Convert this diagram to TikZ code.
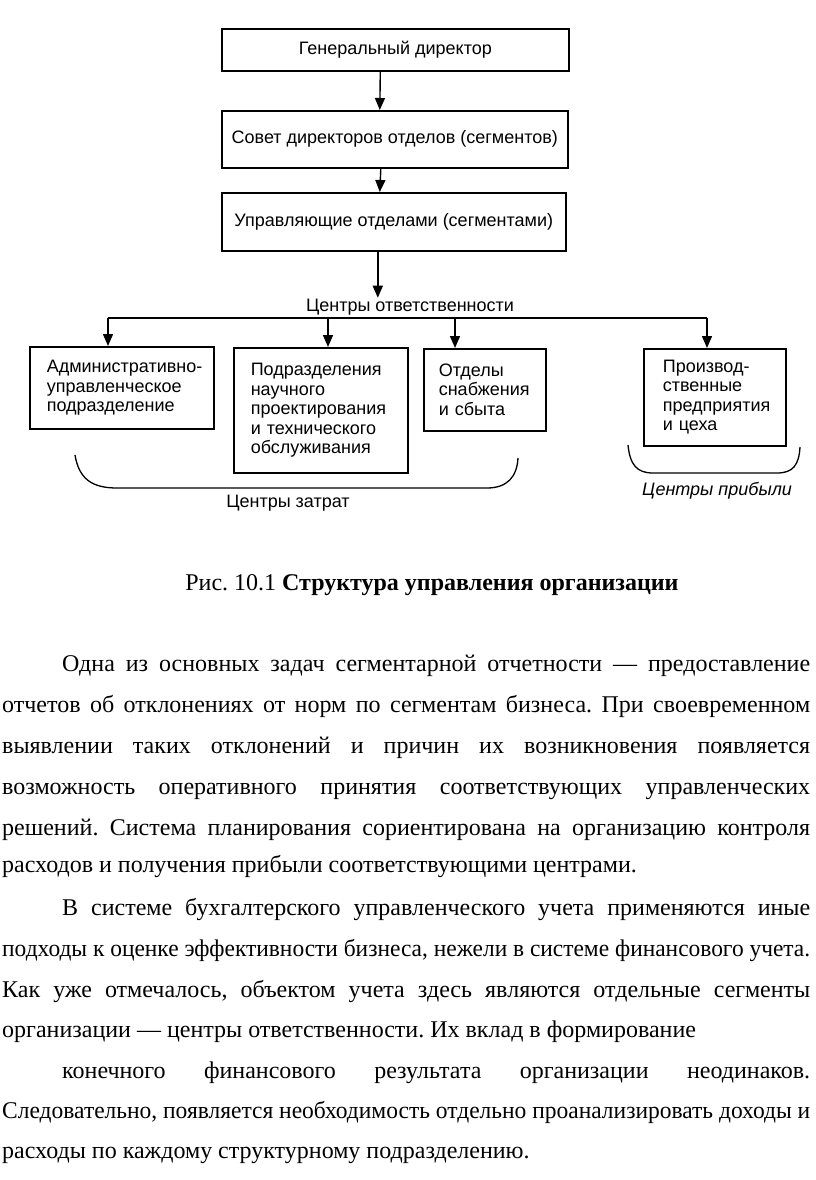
\documentclass[tikz,border=0pt]{standalone}
\usepackage{graphicx}
\usepackage{fontspec}
\setmainfont{Liberation Serif}
\setsansfont{Liberation Sans}
\usetikzlibrary{arrows.meta,positioning}
\frenchspacing
\newlength\rowwd
\newcommand\rowtext[2]{\settowidth\rowwd{#2}\ifdim\rowwd>#1\relax\resizebox{#1}{\height}{#2}\else\makebox[#1][s]{#2}\fi}
\begin{document}
\begin{tikzpicture}
[x=1pt,y=-1pt,
 box/.style={draw,line width=1.6pt,font=\sffamily\fontsize{18}{19.5}\selectfont,anchor=north west},
 unit/.style={box,align=left,inner xsep=17pt},
 link/.style={line width=1.4pt,-{Triangle[length=12pt,width=10pt]}},
 brace/.style={line width=1.3pt},
 note/.style={font=\sffamily\fontsize{18}{19.5}\selectfont,inner sep=1pt},
 row/.style={anchor=base west,inner sep=0pt,font=\fontsize{24}{28}\selectfont}]
\useasboundingbox (0,0) rectangle (816,1180);
\node[box,minimum width=347pt,minimum height=42pt] (gen) at (221,28) {Генеральный директор};
\node[box,minimum width=346pt,minimum height=57pt] (board) at (221,110) {Совет директоров отделов (сегментов)};
\node[box,minimum width=344pt,minimum height=58pt] (mgr) at (221,192) {Управляющие отделами (сегментами)};
\draw[link] ([xshift=-15pt]gen.south) -- ([xshift=-15pt]board.north);
\draw[link] ([xshift=-14pt]board.south) -- ([xshift=-14pt]mgr.south |- mgr.north);
\node[note] (resp) at (410,307) {Центры ответственности};
\draw[link] ([xshift=-16pt]mgr.south) -- ([xshift=-16pt]mgr.south |- resp.north);
\node[unit,text width=150pt,minimum width=184pt,minimum height=82pt] (adm) at (29,346) {\mbox{Административно-}\\управленческое\\подразделение};
\node[unit,text width=140pt,minimum width=174pt,minimum height=125pt] (rnd) at (233,347) {Подразделения\\научного\\проектирования\\и технического\\обслуживания};
\node[unit,inner xsep=15pt,text width=92pt,minimum width=122pt,minimum height=82pt] (sup) at (423,348) {Отделы\\снабжения\\и сбыта};
\node[unit,inner xsep=19pt,text width=104pt,minimum width=142pt,minimum height=97pt] (prod) at (643,348) {\mbox{Производ-}\\ственные\\предприятия\\и цеха};
\coordinate (busA) at (108,318);
\coordinate (busB) at (328,318);
\coordinate (busC) at (455,318);
\coordinate (busD) at (707,318);
\draw[line width=1.4pt] (busA) -- (busD);
\foreach \c/\u in {busA/adm,busB/rnd,busC/sup,busD/prod}
  \draw[link] (\c) -- (\c |- \u.north);
\draw[brace] (75,455) .. controls (79,479) and (92,488) .. (117,488) -- (487,488) .. controls (507,488) and (517,477) .. (518,458);
\draw[brace] (628,445) .. controls (630,465) and (637,473) .. (653,473) -- (777,473) .. controls (793,473) and (799,465) .. (800,447);
\node[note] (cost) at (288,503) {Центры затрат};
\node[note,font=\sffamily\itshape\fontsize{18}{19.5}\selectfont] (profit) at (717,491) {Центры прибыли};
\node[anchor=base,inner sep=0pt,font=\fontsize{24}{28}\selectfont] (cap) at (432,590) {Рис. 10.1 \textbf{Структура управления организации}};
\node[row] (l1) at (62,671) {\rowtext{748pt}{Одна из основных задач сегментарной отчетности — предоставление}};
\node[row] (l2) at (2,712) {\rowtext{808pt}{отчетов об отклонениях от норм по сегментам бизнеса. При своевременном}};
\node[row] (l3) at (2,753) {\rowtext{808pt}{выявлении таких отклонений и причин их возникновения появляется}};
\node[row] (l4) at (2,794) {\rowtext{808pt}{возможность оперативного принятия соответствующих управленческих}};
\node[row] (l5) at (2,835) {\rowtext{808pt}{решений. Система планирования сориентирована на организацию контроля}};
\node[row] (l6) at (2,872) {расходов и получения прибыли соответствующими центрами.};
\node[row] (l7) at (62,915) {\rowtext{748pt}{В системе бухгалтерского управленческого учета применяются иные}};
\node[row] (l8) at (2,956) {\rowtext{808pt}{подходы к оценке эффективности бизнеса, нежели в системе финансового учета.}};
\node[row] (l9) at (2,997) {\rowtext{808pt}{Как уже отмечалось, объектом учета здесь являются отдельные сегменты}};
\node[row] (l10) at (2,1037) {организации — центры ответственности. Их вклад в формирование};
\node[row] (l11) at (62,1078) {\rowtext{748pt}{конечного финансового результата организации неодинаков.}};
\node[row] (l12) at (2,1118) {\rowtext{808pt}{Следовательно, появляется необходимость отдельно проанализировать доходы и}};
\node[row] (l13) at (2,1158) {расходы по каждому структурному подразделению.};
\end{tikzpicture}
\end{document}
